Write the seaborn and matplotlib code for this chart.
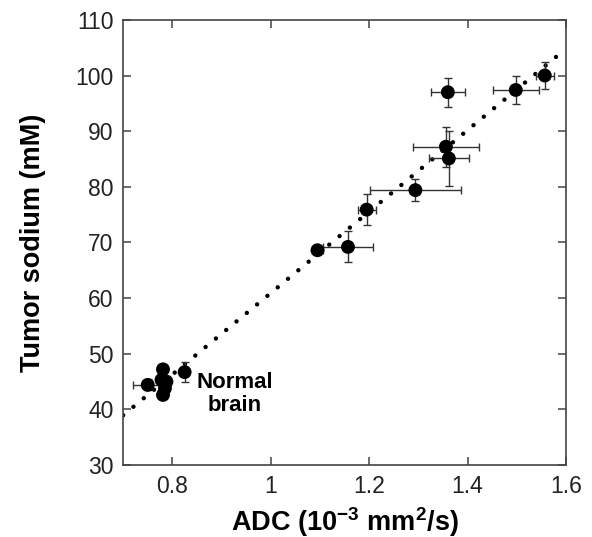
import numpy as np
import pandas as pd
import matplotlib
matplotlib.use("Agg")
import matplotlib.pyplot as plt
import seaborn as sns

# Data
adc = [0.750, 0.778, 0.781, 0.788, 0.785, 0.781, 0.825, 1.095, 1.157,
       1.195, 1.294, 1.356, 1.362, 1.360, 1.498, 1.557]
sodium = [44.4, 45.3, 47.2, 45.0, 43.8, 42.6, 46.7, 68.6, 69.2,
          75.9, 79.4, 87.2, 85.1, 97.0, 97.4, 100.0]
adc_err = [0.030, 0.005, 0.005, 0.008, 0.005, 0.005, 0.004, 0.012, 0.050,
           0.018, 0.092, 0.067, 0.040, 0.034, 0.047, 0.018]
sodium_err = [1.0, 0.8, 0.6, 0.7, 0.6, 0.6, 1.8, 0.6, 2.8,
              2.8, 2.0, 3.6, 4.9, 2.6, 2.6, 2.5]

# Linear fit drawn as dotted line
fit_x = [0.70, 1.585]
fit_slope = 73.2
fit_intercept = -12.3

x_ticks = [0.8, 1.0, 1.2, 1.4, 1.6]
x_tick_labels = ["0.8", "1", "1.2", "1.4", "1.6"]
y_ticks = [30, 40, 50, 60, 70, 80, 90, 100, 110]

sns.set_theme(style="ticks")
plt.rcParams['font.family'] = ['Liberation Sans', 'DejaVu Sans']
plt.rcParams['mathtext.fontset'] = 'custom'
plt.rcParams['mathtext.bf'] = 'Liberation Sans:bold'
plt.rcParams['mathtext.rm'] = 'Liberation Sans'
plt.rcParams['mathtext.default'] = 'bf'
plt.rcParams['text.color'] = 'black'
plt.rcParams['axes.labelcolor'] = 'black'

df = pd.DataFrame({'ADC': adc, 'Na': sodium})
fit_df = pd.DataFrame({'x': fit_x})
fit_df['y'] = fit_slope * fit_df['x'] + fit_intercept

fig = plt.figure(figsize=(5.92, 5.37), dpi=100)
ax = fig.add_axes([0.208, 0.134, 0.748, 0.829])

# dotted regression line
sns.lineplot(data=fit_df, x='x', y='y', color='black', linewidth=3.2,
             linestyle=(0, (0.01, 3.0)), dash_capstyle='round', ax=ax)

# error bars
ax.errorbar(adc, sodium, xerr=adc_err, yerr=sodium_err, fmt='none',
            ecolor='#333333', elinewidth=1.0, capsize=2.6, capthick=1.0, zorder=2)

# points
sns.scatterplot(data=df, x='ADC', y='Na', color='black', s=100,
                edgecolor='none', zorder=3, ax=ax)

ax.text(0.927, 42.8, "Normal\nbrain", fontsize=16, fontweight='bold',
        ha='center', va='center', linespacing=1.1)

ax.set_xlim(0.7, 1.6)
ax.set_ylim(30, 110)
ax.set_xticks(x_ticks)
ax.set_xticklabels(x_tick_labels)
ax.set_yticks(y_ticks)
ax.tick_params(direction='in', length=6, width=1.1, color='#444444',
               labelcolor='#222222', labelsize=16.5, top=True, right=True, pad=7)
for sp in ax.spines.values():
    sp.set_visible(True)
    sp.set_color('#444444')
    sp.set_linewidth(1.2)

ax.set_xlabel(r"ADC (10$^{-3}$ mm$^{2}$/s)", fontsize=19.5, fontweight='bold', labelpad=5)
ax.set_ylabel("Tumor sodium (mM)", fontsize=19.5, fontweight='bold', labelpad=21)

fig.savefig("out.png", dpi=100)
